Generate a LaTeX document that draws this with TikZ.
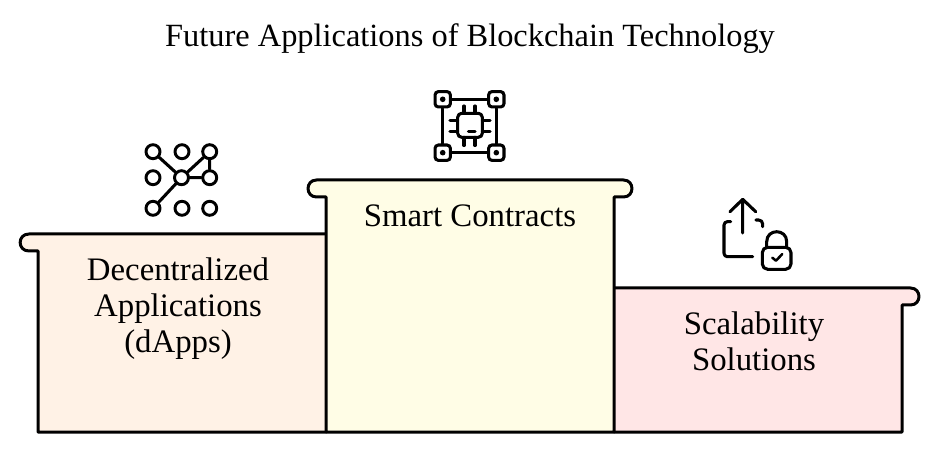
\documentclass[tikz,border=0pt]{standalone}
\usepackage{fontspec}
\setmainfont{Liberation Serif}
\definecolor{peach}{HTML}{FFF2E6}
\definecolor{cream}{HTML}{FFFDE6}
\definecolor{rose}{HTML}{FFE6E6}
\tikzset{
  px/.style={x=0.75pt,y=-0.75pt},
  stepline/.style={draw=black,line width=2.25pt,line join=round,line cap=round},
  iconline/.style={draw=black,line width=2.3pt,line cap=round,line join=round},
  ring/.style={circle,draw=black,line width=2.2pt,fill=white,minimum size=10.5pt,inner sep=0pt},
  corner/.style={draw=black,line width=2.3pt,rounded corners=2.5pt,fill=white,minimum size=11.5pt,inner sep=0pt},
  label/.style={font=\fontsize{24.6pt}{27pt}\selectfont,align=center,anchor=north,inner sep=0pt},
  titletext/.style={font=\fontsize{24.3pt}{28pt}\selectfont,anchor=center,inner sep=0pt}
}
\begin{document}
\begin{tikzpicture}[px]
\useasboundingbox (0,0) rectangle (939,452);
\fill[white] (0,0) rectangle (939,452);
\node[titletext] (title) at (470,38.5) {Future Applications of Blockchain Technology};
% left step
\fill[peach] (326,234) -- (29,234) .. controls (17.2,234) and (17.2,251) .. (29,251) -- (38,251) -- (38,432) -- (326,432) -- cycle;
\draw[stepline] (326,234) -- (29,234) .. controls (17.2,234) and (17.2,251) .. (29,251) -- (38,251) -- (38,432) -- (326,432);
% right step
\fill[rose] (614,288) -- (910.5,288) .. controls (921.8,288) and (921.8,305) .. (910.5,305) -- (902,305) -- (902,432) -- (614,432) -- cycle;
\draw[stepline] (614,288) -- (910.5,288) .. controls (921.8,288) and (921.8,305) .. (910.5,305) -- (902,305) -- (902,432) -- (614,432);
% middle step
\fill[cream] (316.5,180) -- (623.5,180) .. controls (634.8,180) and (634.8,197) .. (623.5,197) -- (614,197) -- (614,432) -- (326,432) -- (326,197) -- (316.5,197) .. controls (305.2,197) and (305.2,180) .. (316.5,180) -- cycle;
\draw[stepline] (316.5,180) -- (623.5,180) .. controls (634.8,180) and (634.8,197) .. (623.5,197) -- (614,197) -- (614,432) -- (326,432) -- (326,197) -- (316.5,197) .. controls (305.2,197) and (305.2,180) .. (316.5,180) -- cycle;
% labels
\node[label] (lblA) at (178,257) {Decentralized\\Applications\\(dApps)};
\node[label] (lblB) at (470,204.5) {Smart Contracts};
\node[label] (lblC) at (754,311) {Scalability\\Solutions};
% network icon
\foreach \n/\x/\y in {a/153/151.7,b/182/151.7,c/209.7/151.7,d/153/177.7,e/181.5/177.7,f/209.7/177.7,g/153/208.3,h/182/208.3,i/209.7/208.3}
  \node[ring] (\n) at (\x,\y) {};
\draw[iconline] (a) -- (e) (g) -- (e) (c) -- (e) (e) -- (f) (f) -- (c);
% chip icon
\node[corner] (tl) at (442.7,99.3) {};
\node[corner] (tr) at (496.3,99.3) {};
\node[corner] (bl) at (442.7,152.7) {};
\node[corner] (br) at (496.3,152.7) {};
\draw[iconline] (tl) -- (tr) (tr) -- (br) (br) -- (bl) (bl) -- (tl);
\foreach \n in {tl,tr,bl,br} \fill (\n) circle[radius=2.8];
\draw[iconline,rounded corners=3pt] (457.7,113.3) rectangle (482.3,137.3);
\draw[iconline] (464,106) -- (464,113.3) (475,106) -- (475,113.3)
  (464,137.3) -- (464,145.5) (475,137.3) -- (475,145.5)
  (450,120.7) -- (457.7,120.7) (450,131.7) -- (457.7,131.7)
  (482.3,120.7) -- (490,120.7) (482.3,131.7) -- (490,131.7)
  (468.5,131.7) -- (475,131.7);
% upload lock icon
\draw[iconline] (742.7,233) -- (742.7,200) (730,211.7) -- (742.7,199.3) -- (755.7,211.7);
\draw[iconline,rounded corners=2.5pt] (730.7,221.7) -- (724,221.7) -- (724,256.7) -- (752.7,256.7);
\draw[iconline,rounded corners=3pt] (756,220) -- (762.7,220) -- (762.7,226.7);
\draw[iconline,rounded corners=4pt] (762.3,247.3) rectangle (791,269.3);
\draw[iconline] (766.7,247.3) -- (766.7,241.7) .. controls (766.7,228.4) and (786.7,228.4) .. (786.7,241.7) -- (786.7,247.3);
\draw[iconline,line width=1.9pt] (772.3,257.7) -- (776,260.7) -- (782.3,254);
\end{tikzpicture}
\end{document}
